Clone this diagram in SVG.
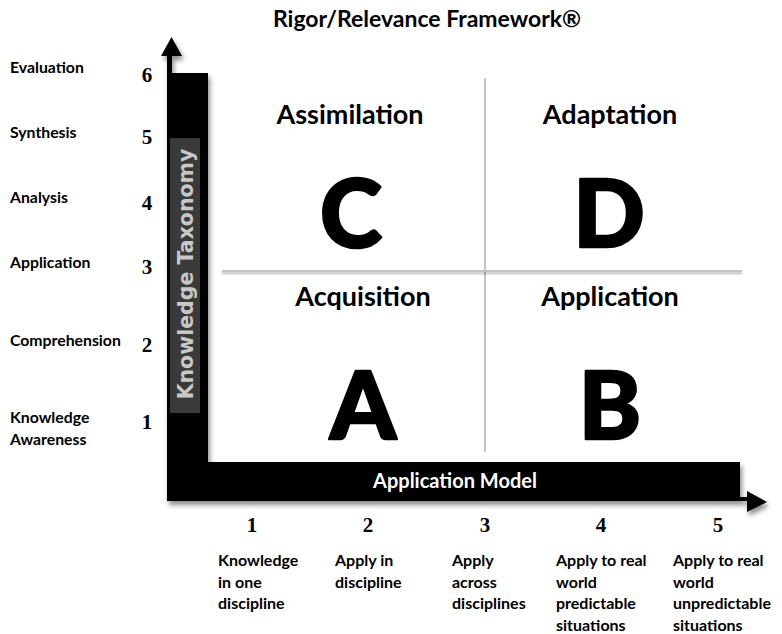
<svg xmlns="http://www.w3.org/2000/svg" width="782" height="634" viewBox="0 0 782 634">
<style>
  .lbl { font-family: Lato, "Liberation Sans", sans-serif; font-weight: bold; fill: #000; }
  .side { font-size: 15.8px; }
  .num { font-family: "Liberation Serif", serif; font-weight: bold; font-size: 21px; fill: #000; text-anchor: middle; }
  .head { font-size: 27px; text-anchor: middle; }
  .big { font-size: 94px; font-weight: 900; text-anchor: middle; stroke: #000; stroke-width: 2.5; stroke-linejoin: round; }
  .bot { font-size: 16px; }
  .divider { stroke: #c4c4c4; stroke-width: 2; fill: none; }
</style>
<defs>
  <filter id="shadow" x="-10%" y="-10%" width="130%" height="130%">
    <feGaussianBlur in="SourceAlpha" stdDeviation="2.5"/>
    <feOffset dx="2" dy="4" result="b"/>
    <feComponentTransfer><feFuncA type="linear" slope="0.45"/></feComponentTransfer>
    <feMerge><feMergeNode/><feMergeNode in="SourceGraphic"/></feMerge>
  </filter>
  <filter id="lshadow" filterUnits="userSpaceOnUse" x="210" y="260" width="545" height="25">
    <feGaussianBlur in="SourceAlpha" stdDeviation="1.2"/>
    <feOffset dx="0" dy="2"/>
    <feComponentTransfer><feFuncA type="linear" slope="0.3"/></feComponentTransfer>
    <feMerge><feMergeNode/><feMergeNode in="SourceGraphic"/></feMerge>
  </filter>
</defs>
<rect width="782" height="634" fill="#fff"/>

<text id="title" class="lbl" x="427" y="27" font-size="23" text-anchor="middle">Rigor/Relevance Framework®</text>

<g id="axes" filter="url(#shadow)">
  <path d="M167,501 L167,56 L161,56 L171.5,37 L182,56 L172,56 L172,73 L208,73 L208,462 L740,462 L740,497 L747,497 L747,491 L767,502 L747,512 L747,501 Z" fill="#000"/>
</g>

<g id="knowledge-taxonomy">
  <rect x="170" y="138" width="30" height="275" fill="#3a3a3a"/>
  <text x="0" y="0" transform="translate(193,274) rotate(-90)" font-family="'DejaVu Sans', sans-serif" font-weight="bold" font-size="20.5" fill="#c8c8c8" text-anchor="middle">Knowledge Taxonomy</text>
</g>

<g id="application-model">
  <text x="455" y="488" class="lbl" font-size="20" style="fill:#fff" text-anchor="middle">Application Model</text>
</g>

<g id="connectors">
  <line class="divider" x1="485" y1="78" x2="485" y2="452"/>
  <line class="divider" x1="222" y1="271" x2="742" y2="271" filter="url(#lshadow)"/>
</g>

<g id="quadrant-c">
  <text class="lbl head" x="350" y="124">Assimilation</text>
  <text class="lbl big" x="351" y="247">C</text>
</g>
<g id="quadrant-d">
  <text class="lbl head" x="610" y="124">Adaptation</text>
  <text class="lbl big" x="609" y="247">D</text>
</g>
<g id="quadrant-a">
  <text class="lbl head" x="363" y="306">Acquisition</text>
  <text class="lbl big" x="363" y="439">A</text>
</g>
<g id="quadrant-b">
  <text class="lbl head" x="610" y="306">Application</text>
  <text class="lbl big" x="610" y="439">B</text>
</g>

<g id="taxonomy-levels">
  <text class="lbl side" x="10" y="73">Evaluation</text>
  <text class="lbl side" x="10" y="138">Synthesis</text>
  <text class="lbl side" x="10" y="203">Analysis</text>
  <text class="lbl side" x="10" y="268">Application</text>
  <text class="lbl side" x="10" y="346">Comprehension</text>
  <text class="lbl side" x="10" y="423">Knowledge</text>
  <text class="lbl side" x="10" y="445">Awareness</text>
  <text class="num" x="147" y="82">6</text>
  <text class="num" x="147" y="144">5</text>
  <text class="num" x="147" y="210">4</text>
  <text class="num" x="147" y="274">3</text>
  <text class="num" x="147" y="352">2</text>
  <text class="num" x="147" y="429">1</text>
</g>

<g id="application-levels">
  <text class="num" x="252" y="532">1</text>
  <text class="num" x="368" y="532">2</text>
  <text class="num" x="485" y="532">3</text>
  <text class="num" x="601" y="532">4</text>
  <text class="num" x="718" y="532">5</text>
  <text class="lbl bot" x="218" y="566">Knowledge</text>
  <text class="lbl bot" x="218" y="588">in one</text>
  <text class="lbl bot" x="218" y="609">discipline</text>
  <text class="lbl bot" x="335" y="566">Apply in</text>
  <text class="lbl bot" x="335" y="588">discipline</text>
  <text class="lbl bot" x="452" y="566">Apply</text>
  <text class="lbl bot" x="452" y="588">across</text>
  <text class="lbl bot" x="452" y="609">disciplines</text>
  <text class="lbl bot" x="556" y="566">Apply to real</text>
  <text class="lbl bot" x="556" y="588">world</text>
  <text class="lbl bot" x="556" y="609">predictable</text>
  <text class="lbl bot" x="556" y="631">situations</text>
  <text class="lbl bot" x="673" y="566">Apply to real</text>
  <text class="lbl bot" x="673" y="588">world</text>
  <text class="lbl bot" x="673" y="609">unpredictable</text>
  <text class="lbl bot" x="673" y="631">situations</text>
</g>
</svg>
